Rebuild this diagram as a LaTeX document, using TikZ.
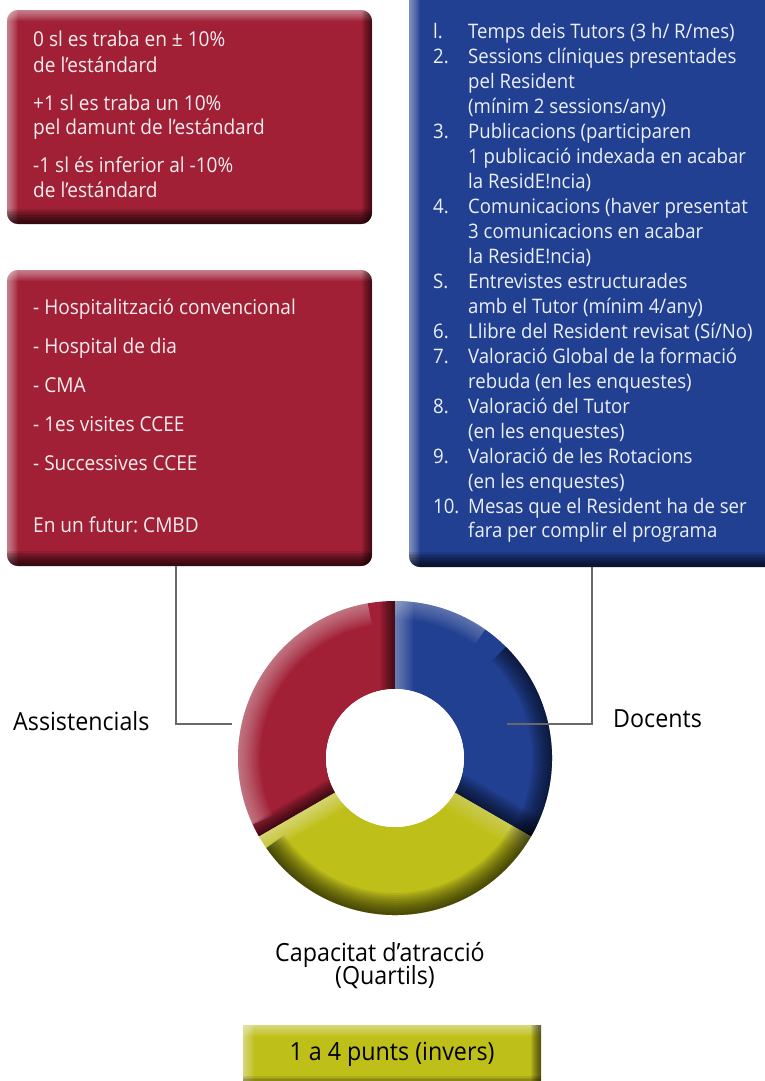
\documentclass[tikz,border=0pt]{standalone}
\usepackage{fontspec}
\setmainfont{Open Sans}[FakeStretch=0.93]
\usetikzlibrary{calc}
\frenchspacing
\definecolor{bxred}{RGB}{161,32,54}
\definecolor{bxblue}{RGB}{34,64,145}
\definecolor{bxyel}{RGB}{191,191,26}
\definecolor{lnk}{RGB}{105,105,105}
\definecolor{boxtxt}{RGB}{244,238,240}
\definecolor{boxtxtb}{RGB}{236,240,248}
\newcommand\bnum[1]{\makebox[35pt][l]{#1}}
\newcommand\bcont{\hspace*{35pt}}
% #1 node name, #2 colour, #3 corner radius
\newcommand\bevelbox[3]{%
  \begin{scope}
    \clip[rounded corners=#3] (#1.north west) rectangle (#1.south east);
    \fill[#2] (#1.north west) rectangle (#1.south east);
    \foreach \w in {2,4,...,22}{
      \draw[white,opacity=0.05,line width=\w pt] (#1.north west) -- (#1.north east);
      \draw[white,opacity=0.05,line width=\w pt] (#1.north west) -- (#1.south west);
    }
    \foreach \w in {3,6,...,30}{
      \draw[black,opacity=0.1,line width=\w pt] (#1.south west) -- (#1.south east);
    }
    \foreach \w in {2,4,...,20}{
      \draw[black,opacity=0.07,line width=\w pt] (#1.north east) -- (#1.south east);
    }
  \end{scope}}
\begin{document}
\begin{tikzpicture}[x=1pt,y=1pt,
  boxshape/.style={rectangle,inner sep=0pt,outer sep=0pt,draw=none},
  redtext/.style={anchor=base west,inner sep=0pt,text=boxtxt,font=\fontsize{20.5}{25}\selectfont},
  bluetext/.style={anchor=base west,inner sep=0pt,text=boxtxtb,font=\fontsize{20}{24.95}\selectfont},
  lbl/.style={anchor=base,inner sep=0pt,text=black,font=\fontsize{25}{28}\selectfont},
  conn/.style={draw=lnk,line width=1.4pt}]
\useasboundingbox (0,0) rectangle (764,-1081);
\fill[white] (0,0) rectangle (764,-1081);

% boxes
\node[boxshape,minimum width=365pt,minimum height=214pt] (redA) at (189.5,-117) {};
\node[boxshape,minimum width=365pt,minimum height=296pt] (redB) at (189.5,-418) {};
\node[boxshape,minimum width=381pt,minimum height=587pt] (blue) at (599.5,-273.5) {};
\node[boxshape,minimum width=298pt,minimum height=66pt] (yel) at (392,-1058) {};
\bevelbox{redA}{bxred}{11pt}
\bevelbox{redB}{bxred}{11pt}
\bevelbox{blue}{bxblue}{11pt}
\bevelbox{yel}{bxyel}{0pt}

% box texts
\node[redtext] (tA) at (33,-47) {\begin{tabular}[t]{@{}l@{}}
0 sl es traba en ± 10\%\\
de l’estándard\\[13pt]
+1 sl es traba un 10\%\\
pel damunt de l’estándard\\[13pt]
-1 sl és inferior al -10\%\\
de l’estándard
\end{tabular}};

\node[redtext,font=\fontsize{20.5}{39}\selectfont] (tB) at (33,-314) {\begin{tabular}[t]{@{}l@{}}
- Hospitalització convencional\\
- Hospital de dia\\
- CMA\\
- 1es visites CCEE\\
- Successives CCEE\\[23pt]
En un futur: CMBD
\end{tabular}};

\node[bluetext] (tC) at (433,-39) {\begin{tabular}[t]{@{}l@{}}
\bnum{l.}Temps deis Tutors (3 h/ R/mes)\\
\bnum{2.}Sessions clíniques presentades\\
\bcont pel Resident\\
\bcont (mínim 2 sessions/any)\\
\bnum{3.}Publicacions (participaren\\
\bcont 1 publicació indexada en acabar\\
\bcont la ResidE!ncia)\\
\bnum{4.}Comunicacions (haver presentat\\
\bcont 3 comunicacions en acabar\\
\bcont la ResidE!ncia)\\
\bnum{S.}Entrevistes estructurades\\
\bcont amb el Tutor (mínim 4/any)\\
\bnum{6.}Llibre del Resident revisat (Sí/No)\\
\bnum{7.}Valoració Global de la formació\\
\bcont rebuda (en les enquestes)\\
\bnum{8.}Valoració del Tutor\\
\bcont (en les enquestes)\\
\bnum{9.}Valoració de les Rotacions\\
\bcont (en les enquestes)\\
\bnum{10.}Mesas que el Resident ha de ser\\
\bcont fara per complir el programa
\end{tabular}};

% donut
\coordinate (c) at (395,-758);
\node[circle,inner sep=0pt,minimum size=314pt] (donut) at (c) {};
% red segment
\begin{scope}
  \clip (c) ++(90:157) arc[start angle=90,end angle=210,radius=157] -- ([shift={(210:69)}]c) arc[start angle=210,end angle=90,radius=69] -- cycle;
  \fill[bxred] (c) circle[radius=160];
  \foreach \w in {4,8,...,44}{
    \draw[white,opacity=0.045,line width=\w pt] (c) ++(100:157) arc[start angle=100,end angle=205,radius=157];
  }
  \foreach \w in {3,6,...,30}{
    \draw[black,opacity=0.07,line width=\w pt] (c) -- ++(90:160);
    \draw[black,opacity=0.08,line width=\w pt] (c) -- ++(210:160);
  }
\end{scope}
% blue segment
\begin{scope}
  \clip (c) ++(-30:157) arc[start angle=-30,end angle=90,radius=157] -- ([shift={(90:69)}]c) arc[start angle=90,end angle=-30,radius=69] -- cycle;
  \fill[bxblue] (c) circle[radius=160];
  \foreach \w in {4,8,...,36}{
    \draw[white,opacity=0.045,line width=\w pt] (c) -- ++(90:160);
    \draw[white,opacity=0.035,line width=\w pt] (c) ++(55:157) arc[start angle=55,end angle=90,radius=157];
  }
  \foreach \w in {4,8,...,40}{
    \draw[black,opacity=0.07,line width=\w pt] (c) ++(-30:157) arc[start angle=-30,end angle=45,radius=157];
    \draw[black,opacity=0.08,line width=\w pt] (c) -- ++(-30:160);
  }
\end{scope}
% yellow segment
\begin{scope}
  \clip (c) ++(210:157) arc[start angle=210,end angle=330,radius=157] -- ([shift={(330:69)}]c) arc[start angle=330,end angle=210,radius=69] -- cycle;
  \fill[bxyel] (c) circle[radius=160];
  \foreach \w in {4,8,...,36}{
    \draw[white,opacity=0.05,line width=\w pt] (c) -- ++(210:160);
    \draw[white,opacity=0.03,line width=\w pt] (c) -- ++(330:160);
  }
  \foreach \w in {4,8,...,44}{
    \draw[black,opacity=0.08,line width=\w pt] (c) ++(215:157) arc[start angle=215,end angle=335,radius=157];
  }
\end{scope}
\fill[white] (c) circle[radius=69];

% connectors
\coordinate (aL) at (176,-724);
\coordinate (aE) at (232,-724);
\coordinate (dR) at (592,-724);
\coordinate (dE) at (507,-724);
\draw[conn] (redB.south -| aL) |- (aE);
\draw[conn] (blue.south -| dR) |- (dE);

% labels
\node[lbl,anchor=base west] (assist) at (13,-730) {Assistencials};
\node[lbl,anchor=base west] (docents) at (613,-727) {Docents};
\node[lbl] (cap1) at (380,-961) {Capacitat d’atracció};
\node[lbl] (cap2) at (385,-984) {(Quartils)};
\node[lbl] (ytext) at (392,-1060) {1 a 4 punts (invers)};
\end{tikzpicture}
\end{document}
